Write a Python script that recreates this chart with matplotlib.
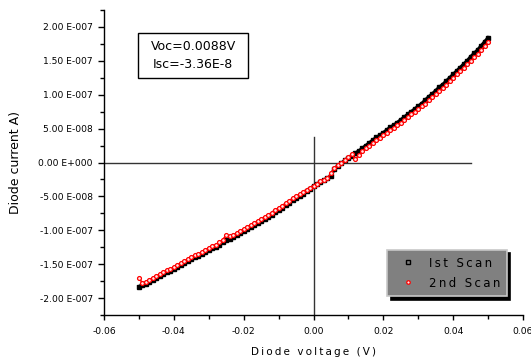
import numpy as np
import matplotlib
matplotlib.use("Agg")
import matplotlib.pyplot as plt
from matplotlib.patches import Rectangle
from matplotlib.ticker import MultipleLocator, FuncFormatter

# ---- data (current in units of 1e-8 A) ----
voltage = [round(-0.050 + 0.001 * i, 3) for i in range(101)]

scan1 = [-18.3, -18.1, -17.9, -17.6, -17.3, -17.0, -16.8, -16.5, -16.2, -16.0,
         -15.7, -15.4, -15.1, -14.9, -14.6, -14.3, -14.0, -13.8, -13.5, -13.2,
         -12.9, -12.6, -12.4, -12.1, -11.8, -11.5, -11.3, -11.0, -10.7, -10.4,
         -10.1, -9.8, -9.5, -9.2, -8.9, -8.6, -8.3, -8.0, -7.7, -7.3,
         -7.0, -6.7, -6.3, -6.0, -5.6, -5.3, -4.9, -4.6, -4.2, -3.9,
         -3.5, -3.2, -2.9, -2.6, -2.3, -2.0, -0.9, -0.5, -0.1, 0.3,
         0.7, 1.0, 1.4, 1.7, 2.1, 2.5, 2.9, 3.3, 3.7, 4.0,
         4.4, 4.8, 5.2, 5.5, 5.9, 6.3, 6.7, 7.1, 7.5, 7.9,
         8.3, 8.7, 9.2, 9.7, 10.1, 10.6, 11.1, 11.5, 12.0, 12.5,
         13.0, 13.5, 14.0, 14.5, 15.0, 15.6, 16.1, 16.6, 17.2, 17.8,
         18.4]

scan2 = [-17.0, -17.8, -17.6, -17.3, -17.0, -16.7, -16.5, -16.2, -15.9, -15.7,
         -15.4, -15.1, -14.8, -14.6, -14.3, -14.0, -13.7, -13.5, -13.2, -12.9,
         -12.6, -12.3, -12.1, -11.8, -11.4, -10.7, -10.9, -10.7, -10.4, -10.1,
         -9.8, -9.5, -9.2, -8.9, -8.6, -8.3, -8.0, -7.7, -7.4, -7.0,
         -6.7, -6.4, -6.0, -5.7, -5.3, -5.0, -4.7, -4.3, -4.0, -3.7,
         -3.4, -3.1, -2.8, -2.6, -2.3, -1.6, -0.8, -0.4, -0.1, 0.4,
         0.8, 1.2, 0.5, 1.1, 1.7, 2.1, 2.5, 2.9, 3.3, 3.6,
         4.0, 4.4, 4.8, 5.1, 5.5, 5.9, 6.3, 6.7, 7.1, 7.5,
         7.9, 8.3, 8.7, 9.2, 9.6, 10.1, 10.6, 11.0, 11.5, 12.0,
         12.5, 13.0, 13.5, 14.0, 14.5, 15.0, 15.5, 16.0, 16.6, 17.2,
         17.8]

series_labels = ["Ist Scan", "2nd Scan"]
annotation = "Voc=0.0088V\nIsc=-3.36E-8"
x_label = "Diode voltage (V)"
y_label = "Diode current A)"

v = np.array(voltage)
i1 = np.array(scan1) * 1e-8
i2 = np.array(scan2) * 1e-8

plt.rcParams['font.family'] = ['DejaVu Sans']


def spaced(s):
    return "\u2009".join(s)


fig = plt.figure(figsize=(5.31, 3.62), dpi=100)
ax = fig.add_axes([104/531, 1 - 315/362, (523 - 104)/531, (315 - 10)/362])

ax.set_xlim(-0.06, 0.06)
ax.set_ylim(-2.25e-7, 2.25e-7)

# crosshair lines
ax.plot([-0.06, 0.0452], [0, 0], color='#333333', lw=1, zorder=1)
ax.plot([0, 0], [-2.25e-7, 3.7e-8], color='#333333', lw=1, zorder=1)

ax.plot(v, i1, linestyle='-', lw=2.4, color='black', marker='s', ms=2.6,
        mfc='black', mec='black', mew=1.0, label=spaced(series_labels[0]), zorder=3)
ax.plot(v, i2, linestyle='-', lw=1.2, color='red', marker='o', ms=2.8,
        mfc='#ffe8e8', mec='red', mew=0.9, label=spaced(series_labels[1]), zorder=4)

for s in ['top', 'right']:
    ax.spines[s].set_visible(False)
for s in ['left', 'bottom']:
    ax.spines[s].set_linewidth(1.0)

ax.xaxis.set_major_locator(MultipleLocator(0.02))
ax.xaxis.set_minor_locator(MultipleLocator(0.01))
ax.yaxis.set_major_locator(MultipleLocator(5e-8))
ax.yaxis.set_minor_locator(MultipleLocator(2.5e-8))


def yfmt(val, pos):
    if abs(val) < 1e-20:
        return "0.00 E+000"
    e = int(np.floor(np.log10(abs(val))))
    m = val / 10**e
    return "%.2f E%s%03d" % (m, '-' if e < 0 else '+', abs(e))


ax.yaxis.set_major_formatter(FuncFormatter(yfmt))
ax.xaxis.set_major_formatter(FuncFormatter(lambda x, p: "%.2f" % x))
ax.tick_params(axis='y', which='major', direction='out', length=4, width=1,
               labelsize=6.6, pad=4)
ax.tick_params(axis='x', which='major', direction='out', length=3.5, width=1,
               labelsize=6.6, pad=5)
ax.tick_params(which='minor', direction='out', length=3, width=1)

ax.set_xlabel(spaced(x_label), fontsize=7.5)
ax.set_ylabel(y_label, fontsize=9)
ax.xaxis.set_label_coords(0.5, -0.105)
ax.yaxis.set_label_coords(-0.195, 0.5)

# annotation box
ax.add_patch(Rectangle((0.081, 0.777), 0.263, 0.148, transform=ax.transAxes,
                       fc='white', ec='black', lw=1, zorder=5))
ax.text(0.2125, 0.851, annotation, transform=ax.transAxes, fontsize=9,
        ha='center', va='center', linespacing=1.45, zorder=6)

leg = ax.legend(loc='lower left', bbox_to_anchor=(0.676, 0.062), fontsize=8.5,
                fancybox=False, frameon=True, facecolor='#808080',
                edgecolor='#c8c8c8', framealpha=1, borderaxespad=0,
                handlelength=2.4, handletextpad=0.6, borderpad=0.55,
                labelspacing=0.6,
                shadow={'color': 'black', 'alpha': 1.0, 'ox': 2.5, 'oy': -2.5})
leg.get_frame().set_linewidth(1.2)
for h in leg.legend_handles:
    h.set_linestyle('none')
    h.set_markersize(2.5)
leg.legend_handles[0].set_markerfacecolor('none')

fig.savefig("out.png", dpi=100)
